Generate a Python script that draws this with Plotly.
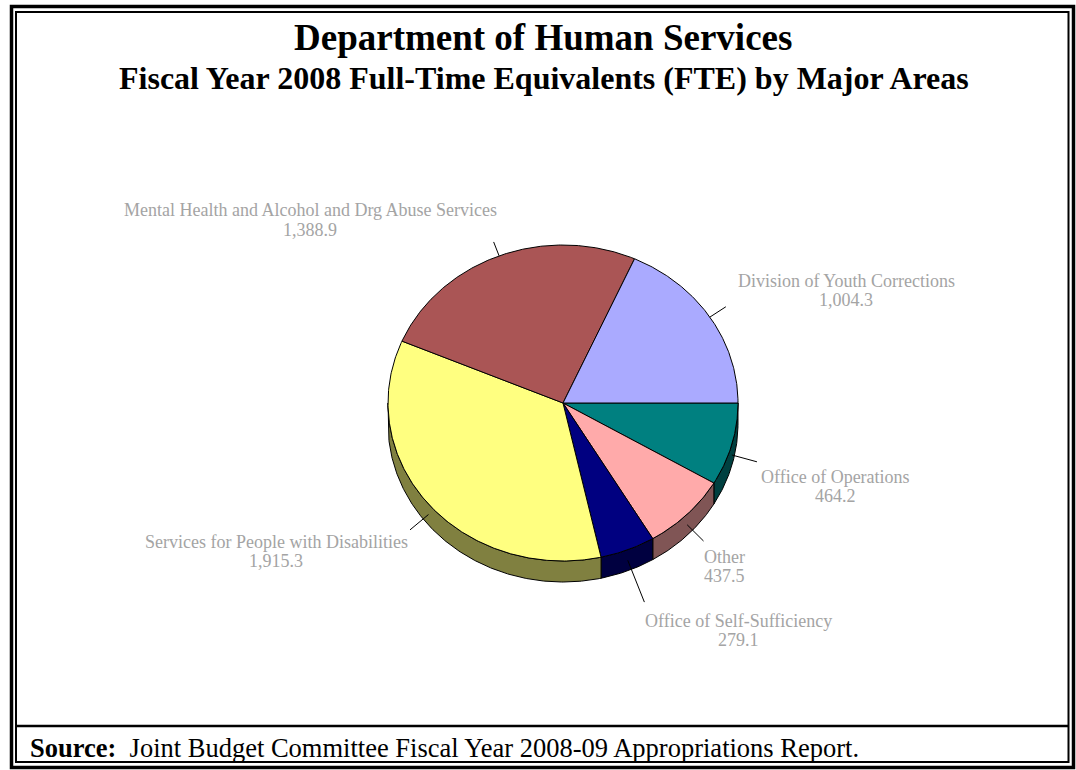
import numpy as np
import plotly.graph_objects as go

# Slices listed clockwise starting at 3 o'clock
categories = [
    "Office of Operations",
    "Other",
    "Office of Self-Sufficiency",
    "Services for People with Disabilities",
    "Mental Health and Alcohol and Drg Abuse Services",
    "Division of Youth Corrections",
]
fte = [464.2, 437.5, 279.1, 1915.3, 1388.9, 1004.3]

top_colors = ["#008080", "#FFAAAA", "#000080", "#FFFF80", "#AA5555", "#AAAAFF"]
side_colors = ["#004040", "#805555", "#000040", "#808040", "#552A2A", "#555580"]

# label styling: leader length and label-centre offset from the leader end
leader_len = [26, 23, 45, 24, 15, 19]
label_offset = [(79, 15), (21, 15.5), (94.5, 18.4), (-134, 11.7), (-183.6, -31.9), (120.2, -25.8)]
line_gap = 19.5

W, H = 1076, 770
cx, cy, rx, ry, depth = 563, 403, 175, 158, 21

total = sum(fte)
bounds = np.concatenate([[0.0], np.cumsum(fte)]) / total * 2 * np.pi


def arc(a0, a1, dy=0.0):
    n = max(2, int(np.degrees(a1 - a0) / 0.5) + 1)
    t = np.linspace(a0, a1, n)
    return cx + rx * np.cos(t), cy + ry * np.sin(t) + dy


fig = go.Figure()

# visible side walls (front half of the ellipse)
for i in range(len(fte)):
    a0, a1 = bounds[i], min(bounds[i + 1], np.pi)
    if a0 >= np.pi:
        continue
    xt, yt = arc(a0, a1)
    xb, yb = arc(a0, a1, depth)
    xs = np.concatenate([xt, xb[::-1], xt[:1]])
    ys = np.concatenate([yt, yb[::-1], yt[:1]])
    fig.add_trace(go.Scatter(x=xs, y=ys, mode="lines", fill="toself",
                             fillcolor=side_colors[i],
                             line=dict(color="black", width=1),
                             hoverinfo="skip", showlegend=False))

# top faces
for i in range(len(fte)):
    xa, ya = arc(bounds[i], bounds[i + 1])
    xs = np.concatenate([[cx], xa, [cx]])
    ys = np.concatenate([[cy], ya, [cy]])
    fig.add_trace(go.Scatter(x=xs, y=ys, mode="lines", fill="toself",
                             fillcolor=top_colors[i],
                             line=dict(color="black", width=1),
                             hoverinfo="skip", showlegend=False))

label_font = dict(family="Liberation Serif", size=18, color="#a4a4a4")
annotations = []
# leader lines and slice labels
for i, (name, v) in enumerate(zip(categories, fte)):
    mid = (bounds[i] + bounds[i + 1]) / 2
    c, s = np.cos(mid), np.sin(mid)
    x0 = cx + rx * c
    y0 = cy + ry * s + (depth / 2 if s > 0 else 0)
    x1 = x0 + leader_len[i] * c
    y1 = y0 + leader_len[i] * s
    fig.add_trace(go.Scatter(x=[x0, x1], y=[y0, y1], mode="lines",
                             line=dict(color="black", width=1),
                             hoverinfo="skip", showlegend=False))
    dx, dy = label_offset[i]
    for k, txt in enumerate([name, f"{v:,.1f}"]):
        annotations.append(dict(
            x=x1 + dx, y=y1 + dy + k * line_gap, xref="x", yref="y",
            text=txt, showarrow=False, xanchor="center", yanchor="middle",
            font=label_font,
        ))

annotations += [
    dict(x=W / 2 + 5, y=37, xref="x", yref="y", text="<b>Department of Human Services</b>",
         showarrow=False, xanchor="center", yanchor="middle",
         font=dict(family="Liberation Serif", size=37, color="black")),
    dict(x=W / 2 + 6, y=78, xref="x", yref="y",
         text="<b>Fiscal Year 2008 Full-Time Equivalents (FTE) by Major Areas</b>",
         showarrow=False, xanchor="center", yanchor="middle",
         font=dict(family="Liberation Serif", size=32, color="black")),
    dict(x=28, y=748, xref="x", yref="y",
         text="<b>Source:</b>\u00a0 Joint Budget Committee Fiscal Year 2008-09 Appropriations Report.",
         showarrow=False, xanchor="left", yanchor="middle",
         font=dict(family="Liberation Serif", size=26.5, color="black")),
]

# double frame with a footer divider
shapes = [
    dict(type="rect", xref="x", yref="y", x0=11.5, y0=6.5, x1=1073.5, y1=767.5,
         line=dict(color="black", width=3.5), layer="below"),
    dict(type="rect", xref="x", yref="y", x0=16, y0=12, x1=1068.5, y1=762,
         line=dict(color="black", width=2), layer="below"),
    dict(type="line", xref="x", yref="y", x0=16, y0=726, x1=1068.5, y1=726,
         line=dict(color="black", width=2.5), layer="below"),
]

fig.update_layout(
    width=W, height=H, autosize=False,
    margin=dict(l=0, r=0, t=0, b=0),
    paper_bgcolor="white", plot_bgcolor="white",
    xaxis=dict(range=[0, W], visible=False, fixedrange=True),
    yaxis=dict(range=[H, 0], visible=False, fixedrange=True),
    annotations=annotations, shapes=shapes,
)

fig.write_html("out.html")
